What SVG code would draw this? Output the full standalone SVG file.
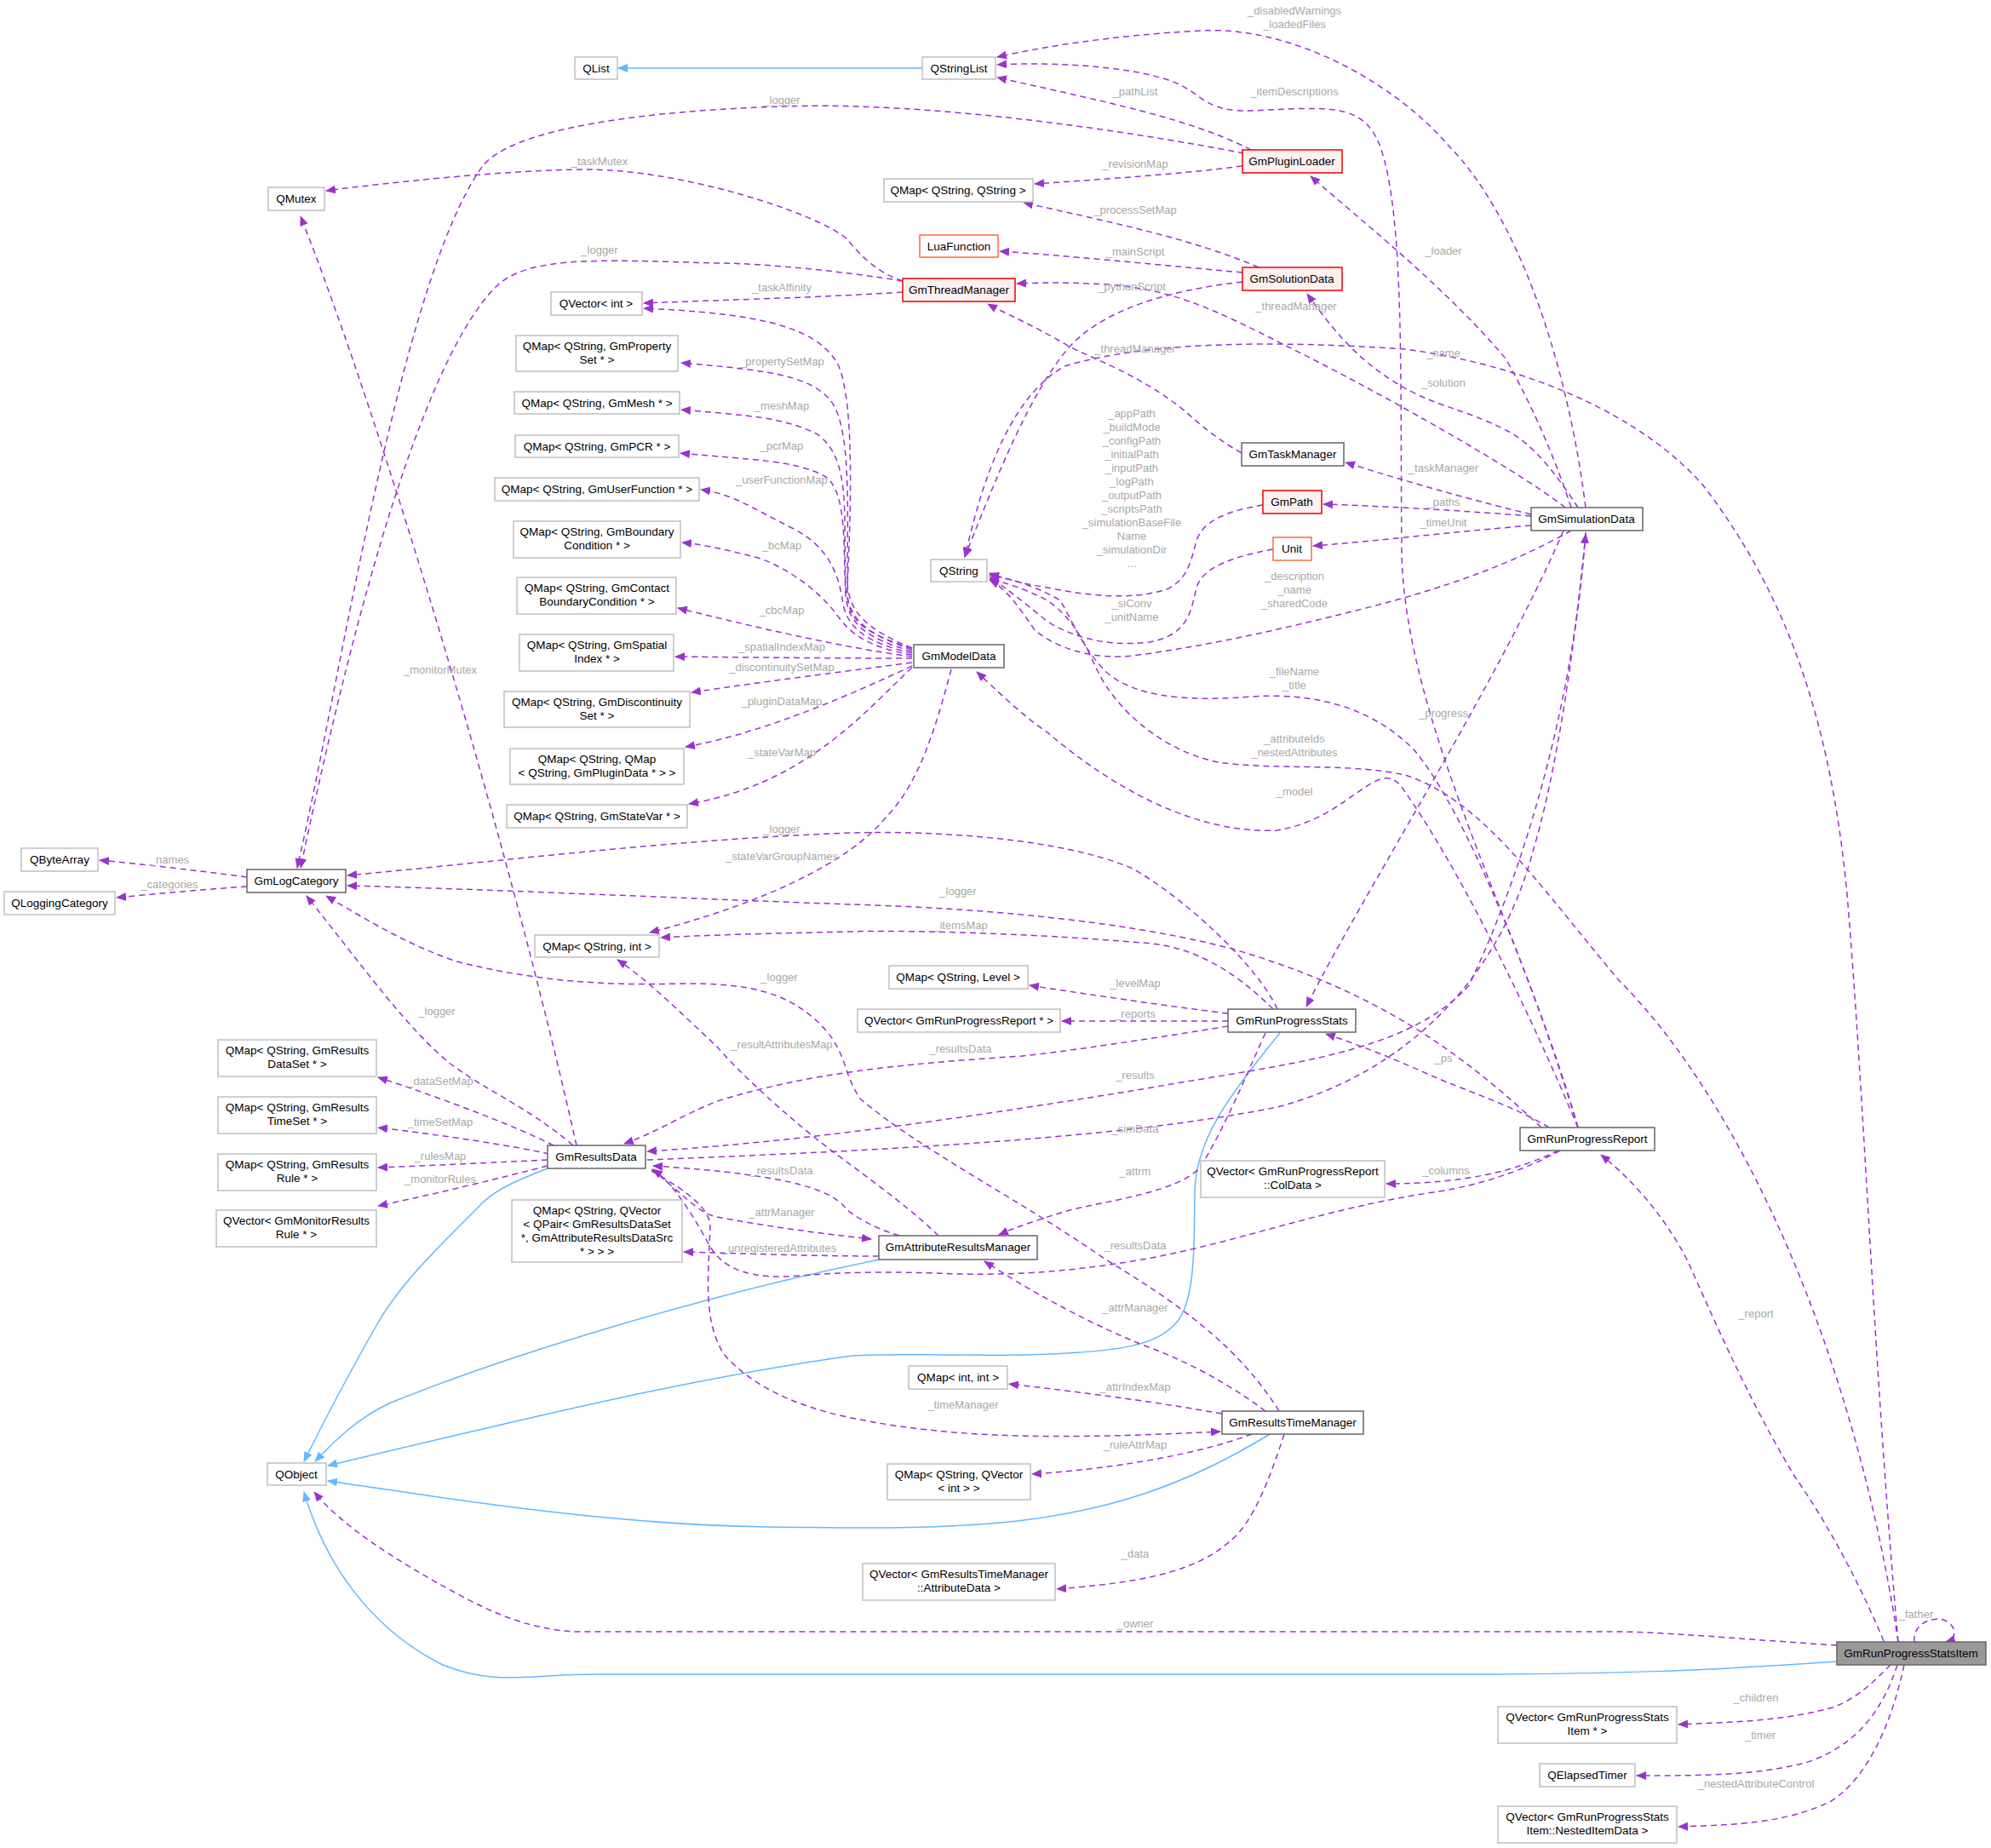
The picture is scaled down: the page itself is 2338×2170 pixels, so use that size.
<svg xmlns="http://www.w3.org/2000/svg" width="2338" height="2170" viewBox="0 0 2338 2170">
<style>
text{font-family:"Liberation Sans",Arial,sans-serif;}
.n rect{fill:#fff;stroke:#bfbfbf;stroke-width:1.5}
.d rect{fill:#fff;stroke:#666;stroke-width:1.5}
.r rect{fill:#fff0f0;stroke:#e00;stroke-width:1.5}
.o rect{fill:#fff;stroke:#ff6a3d;stroke-width:1.5}
.g rect{fill:#999;stroke:#666;stroke-width:1.5}
g text{font-size:13.5px;fill:#000;text-anchor:middle}
.e path{fill:none;stroke:#9a32cd;stroke-width:1.5;stroke-dasharray:7,5;marker-end:url(#ap)}
.i path{fill:none;stroke:#63b8ff;stroke-width:1.5;marker-end:url(#ab)}
.l text{font-size:13px;fill:#a8a8a8;text-anchor:middle}
</style>
<defs>
<marker id="ap" markerWidth="12" markerHeight="10" refX="11" refY="5" orient="auto" markerUnits="userSpaceOnUse"><path d="M0,0L12,5L0,10z" fill="#9a32cd"/></marker>
<marker id="ab" markerWidth="12" markerHeight="10" refX="11" refY="5" orient="auto" markerUnits="userSpaceOnUse"><path d="M0,0L12,5L0,10z" fill="#63b8ff"/></marker>
</defs>
<rect width="2338" height="2170" fill="#fff"/>
<g id="connectors">
<g class="i">
<path d="M1083,80L726,80"/>
<path d="M643,1372C610,1385 585,1395 567,1412C520,1460 470,1505 440,1560C400,1630 370,1690 357,1716"/>
<path d="M1033,1479C830,1520 600,1590 459,1647C420,1665 395,1690 370,1716"/>
<path d="M1503,1213C1440,1290 1404,1340 1403,1400C1402,1450 1405,1520 1384,1550C1360,1580 1320,1588 1200,1591C1100,1592 1040,1589 1000,1592C800,1620 600,1670 385,1721"/>
<path d="M1491,1684C1400,1740 1300,1780 1150,1790C1050,1797 964,1793 900,1793C700,1790 500,1755 385,1739"/>
<path d="M2157,1951C2000,1962 1896,1966 1700,1966C1300,1966 900,1966 700,1966C620,1966 582,1980 520,1955C430,1910 380,1830 357,1752"/>
</g>
<g class="e">
<path d="M1862,596C1840,420 1780,250 1700,170C1640,100 1520,30 1410,36C1300,42 1220,56 1171,67"/>
<path d="M1853,1324C1790,1100 1650,850 1646,650C1644,450 1650,250 1620,170C1600,120 1560,126 1469,130C1420,132 1410,112 1395,105C1360,80 1250,72 1171,76"/>
<path d="M1469,176C1400,140 1300,120 1171,91"/>
<path d="M1461,180C1250,140 1050,120 918,125C760,130 600,150 566,196C470,330 400,800 349,1019"/>
<path d="M1060,330C1030,320 1010,300 995,281C960,250 800,199 689,199C600,199 450,215 383,224"/>
<path d="M1060,330C1000,320 900,309 842,309C700,305 620,300 582,337C500,420 420,700 353,1019"/>
<path d="M1060,343C950,350 850,352 756,356"/>
<path d="M1459,195C1380,205 1300,210 1215,216"/>
<path d="M1478,314C1400,280 1300,260 1202,238"/>
<path d="M1459,320C1350,310 1250,300 1174,295"/>
<path d="M1459,331C1380,340 1300,360 1256,407C1210,460 1170,560 1133,654"/>
<path d="M1838,596C1780,550 1600,450 1512,407C1420,360 1376,340 1300,334C1250,331 1220,332 1194,333"/>
<path d="M1458,532C1420,510 1400,490 1393,484C1340,440 1280,420 1256,407C1210,380 1180,368 1160,357"/>
<path d="M1853,596C1830,560 1800,520 1768,505C1720,480 1683,477 1640,450C1590,420 1560,380 1535,345"/>
<path d="M1845,596C1820,520 1790,460 1768,421C1700,340 1600,260 1539,207"/>
<path d="M2229,1928C2200,1600 2190,1300 2169,1050C2150,850 2100,700 2000,570C1930,490 1800,430 1650,410C1500,400 1350,400 1250,430C1180,470 1150,580 1133,654"/>
<path d="M1798,604C1720,585 1650,565 1580,543"/>
<path d="M1798,606C1720,600 1640,595 1554,592"/>
<path d="M1798,617C1700,625 1620,635 1542,641"/>
<path d="M1483,593C1440,600 1412,612 1405,635C1398,660 1395,680 1370,692C1330,705 1280,700 1230,690C1200,685 1180,680 1162,673"/>
<path d="M1495,645C1440,655 1412,668 1405,690C1398,720 1395,745 1350,754C1300,760 1260,748 1230,730C1200,705 1180,690 1162,677"/>
<path d="M1845,623C1780,660 1700,690 1600,715C1500,740 1420,758 1330,770C1280,775 1240,760 1215,740C1195,710 1180,690 1162,681"/>
<path d="M1853,1324C1800,1150 1720,950 1660,880C1620,840 1560,812 1470,818C1380,825 1330,815 1300,790C1270,760 1260,730 1245,705C1220,690 1190,680 1162,675"/>
<path d="M2229,1928C2180,1600 2050,1300 1900,1150C1800,1030 1740,940 1650,910C1580,895 1500,905 1430,895C1360,880 1310,830 1290,790C1275,760 1265,730 1230,705C1200,690 1180,684 1162,680"/>
<path d="M1853,1324C1780,1150 1700,1000 1650,930C1620,880 1590,960 1500,975C1400,980 1300,920 1230,860C1200,840 1170,810 1147,789"/>
<path d="M1836,623C1760,800 1600,1050 1534,1182"/>
<path d="M1071,761C1020,740 995,720 995,680C995,600 1000,500 975,470C950,440 900,435 800,426"/>
<path d="M1071,763C1020,745 997,730 993,690C990,600 1000,540 960,510C920,490 880,488 800,481"/>
<path d="M1071,765C1020,750 997,735 993,700C990,640 995,580 970,560C935,540 880,540 799,532"/>
<path d="M1071,767C1020,755 997,740 990,710C985,670 970,640 930,620C880,595 860,580 823,575"/>
<path d="M1071,769C1020,760 1000,745 985,725C960,690 920,665 890,655C850,645 830,640 801,637"/>
<path d="M1071,771C1000,762 900,740 796,714"/>
<path d="M1071,773C980,773 890,772 793,771"/>
<path d="M1071,778C980,790 900,800 812,813"/>
<path d="M1071,782C1000,815 900,860 805,877"/>
<path d="M1071,784C1020,830 950,920 809,944"/>
<path d="M1117,786C1100,850 1080,920 1040,960C1000,1010 900,1060 763,1095"/>
<path d="M1071,761C1000,740 995,720 995,690C998,620 1005,480 985,430C960,380 880,368 756,362"/>
<path d="M290,1030C230,1022 170,1015 117,1010"/>
<path d="M290,1041C230,1045 180,1050 137,1054"/>
<path d="M1500,1185C1480,1140 1400,1060 1330,1020C1250,985 1100,975 1000,978C800,985 600,1010 408,1028"/>
<path d="M1810,1324C1700,1220 1600,1160 1450,1115C1300,1075 1100,1065 1000,1062C800,1055 600,1045 408,1040"/>
<path d="M673,1345C620,1300 570,1280 530,1250C480,1210 430,1140 360,1052"/>
<path d="M1502,1657C1460,1590 1400,1540 1300,1480C1200,1410 1080,1350 1010,1290C990,1260 995,1240 970,1210C930,1165 880,1154 800,1155C700,1158 620,1150 536,1129C480,1110 430,1080 383,1052"/>
<path d="M677,1345C600,1000 450,500 353,254"/>
<path d="M650,1345C600,1320 520,1290 444,1265"/>
<path d="M645,1355C600,1345 520,1333 444,1324"/>
<path d="M643,1362C580,1365 520,1368 444,1371"/>
<path d="M643,1369C580,1385 520,1400 444,1416"/>
<path d="M1442,1205C1350,1220 1250,1235 1200,1240C1050,1250 950,1260 842,1293C800,1310 770,1330 733,1343"/>
<path d="M1862,625C1850,800 1800,1000 1725,1157C1650,1240 1500,1250 1341,1279C1150,1310 950,1340 760,1352"/>
<path d="M760,1362C1000,1352 1300,1340 1500,1300C1650,1260 1760,1150 1800,1000C1830,900 1850,750 1862,627"/>
<path d="M1486,1213C1460,1270 1440,1320 1410,1370C1384,1400 1300,1410 1256,1421C1220,1432 1195,1440 1173,1450"/>
<path d="M1832,1351C1780,1380 1720,1395 1683,1400C1550,1420 1450,1460 1341,1479C1250,1495 1180,1497 1128,1496C1050,1493 1000,1493 940,1498C880,1503 850,1490 834,1464C810,1420 790,1390 767,1373"/>
<path d="M1056,1451C1020,1440 1000,1425 995,1421C980,1400 940,1380 767,1369"/>
<path d="M765,1373C800,1400 820,1425 842,1429C900,1440 960,1448 1023,1455"/>
<path d="M1032,1475C950,1475 880,1472 803,1470"/>
<path d="M1102,1451C1060,1410 1000,1370 957,1336C900,1290 860,1250 842,1229C800,1190 760,1150 725,1127"/>
<path d="M1495,1185C1450,1140 1400,1110 1341,1107C1200,1095 1050,1092 1000,1094C900,1096 830,1098 776,1101"/>
<path d="M1442,1190C1360,1180 1280,1168 1209,1157"/>
<path d="M1442,1199C1380,1199 1320,1199 1247,1199"/>
<path d="M1819,1324C1780,1300 1720,1280 1683,1264C1630,1240 1590,1225 1557,1214"/>
<path d="M1830,1351C1780,1375 1720,1390 1628,1390"/>
<path d="M1486,1657C1450,1630 1400,1600 1341,1579C1270,1550 1200,1510 1156,1481"/>
<path d="M1435,1660C1350,1645 1270,1635 1185,1625"/>
<path d="M765,1375C810,1400 834,1421 834,1440C832,1500 825,1550 850,1590C880,1625 930,1650 995,1664C1100,1686 1200,1688 1300,1686C1350,1685 1390,1683 1433,1681"/>
<path d="M1470,1684C1400,1710 1300,1725 1212,1731"/>
<path d="M1508,1684C1490,1740 1470,1790 1444,1810C1410,1840 1360,1857 1241,1866"/>
<path d="M2212,1927C2180,1850 2140,1780 2109,1736C2050,1640 2000,1520 1981,1479C1950,1420 1910,1380 1880,1356"/>
<path d="M2157,1932C2050,1925 1950,1916 1896,1916C1700,1916 1300,1916 1000,1916C850,1916 720,1916 673,1916C620,1912 580,1895 536,1871C460,1830 400,1790 369,1752"/>
<path d="M2248,1928C2245,1905 2275,1895 2288,1905C2300,1915 2295,1925 2285,1928"/>
<path d="M2220,1955C2200,1975 2180,1995 2152,2005C2090,2022 2030,2022 1971,2025"/>
<path d="M2228,1955C2210,2010 2180,2050 2120,2070C2060,2085 2000,2085 1922,2085"/>
<path d="M2236,1955C2220,2030 2190,2090 2150,2115C2100,2140 2040,2143 1971,2145"/>
</g>
<g class="l">
<text x="1520" y="17">_disabledWarnings</text><text x="1520" y="33">_loadedFiles</text>
<text x="1520" y="112">_itemDescriptions</text>
<text x="1333" y="112">_pathList</text>
<text x="918" y="122">_logger</text>
<text x="1333" y="197">_revisionMap</text>
<text x="704" y="194">_taskMutex</text>
<text x="1333" y="251">_processSetMap</text>
<text x="704" y="298">_logger</text>
<text x="1333" y="300">_mainScript</text>
<text x="1695" y="299">_loader</text>
<text x="918" y="342">_taskAffinity</text>
<text x="1329" y="341">_pythonScript</text>
<text x="1522" y="364">_threadManager</text>
<text x="1333" y="414">_threadManager</text>
<text x="1695" y="419">_name</text>
<text x="918" y="429">_propertySetMap</text>
<text x="1695" y="454">_solution</text>
<text x="918" y="481">_meshMap</text>
<text x="1329" y="490">_appPath</text><text x="1329" y="506">_buildMode</text><text x="1329" y="522">_configPath</text><text x="1329" y="538">_initialPath</text><text x="1329" y="554">_inputPath</text><text x="1329" y="570">_logPath</text><text x="1329" y="586">_outputPath</text><text x="1329" y="602">_scriptsPath</text><text x="1329" y="618">_simulationBaseFile</text><text x="1329" y="634">Name</text><text x="1329" y="650">_simulationDir</text><text x="1329" y="666">...</text>
<text x="918" y="528">_pcrMap</text>
<text x="1695" y="554">_taskManager</text>
<text x="918" y="568">_userFunctionMap</text>
<text x="1695" y="594">_paths</text>
<text x="1695" y="618">_timeUnit</text>
<text x="918" y="645">_bcMap</text>
<text x="1520" y="681">_description</text><text x="1520" y="697">_name</text><text x="1520" y="713">_sharedCode</text>
<text x="1329" y="713">_siConv</text><text x="1329" y="729">_unitName</text>
<text x="918" y="721">_cbcMap</text>
<text x="918" y="764">_spatialIndexMap</text>
<text x="918" y="788">_discontinuitySetMap</text>
<text x="517" y="791">_monitorMutex</text>
<text x="1520" y="793">_fileName</text><text x="1520" y="809">_title</text>
<text x="1695" y="842">_progress</text>
<text x="918" y="828">_pluginDataMap</text>
<text x="1520" y="872">_attributeIds</text><text x="1520" y="888">_nestedAttributes</text>
<text x="918" y="888">_stateVarMap</text>
<text x="1520" y="934">_model</text>
<text x="918" y="978">_logger</text>
<text x="918" y="1010">_stateVarGroupNames</text>
<text x="199" y="1014">_names</text>
<text x="199" y="1043">_categories</text>
<text x="1125" y="1051">_logger</text>
<text x="1128" y="1091">_itemsMap</text>
<text x="915" y="1152">_logger</text>
<text x="1333" y="1159">_levelMap</text>
<text x="513" y="1192">_logger</text>
<text x="1333" y="1195">_reports</text>
<text x="918" y="1231">_resultAttributesMap</text>
<text x="1128" y="1236">_resultsData</text>
<text x="1695" y="1247">_ps</text>
<text x="1333" y="1267">_results</text>
<text x="517" y="1274">_dataSetMap</text>
<text x="517" y="1322">_timeSetMap</text>
<text x="1333" y="1330">_simData</text>
<text x="517" y="1362">_rulesMap</text>
<text x="918" y="1379">_resultsData</text>
<text x="1333" y="1380">_attrm</text>
<text x="1698" y="1379">_columns</text>
<text x="517" y="1389">_monitorRules</text>
<text x="918" y="1428">_attrManager</text>
<text x="1333" y="1467">_resultsData</text>
<text x="915" y="1470">_unregisteredAttributes</text>
<text x="1333" y="1540">_attrManager</text>
<text x="2062" y="1547">_report</text>
<text x="1333" y="1633">_attrIndexMap</text>
<text x="1131" y="1654">_timeManager</text>
<text x="1333" y="1701">_ruleAttrMap</text>
<text x="1333" y="1829">_data</text>
<text x="2250" y="1900">_father</text>
<text x="1333" y="1911">_owner</text>
<text x="2062" y="1998">_children</text>
<text x="2067" y="2042">_timer</text>
<text x="2062" y="2099">_nestedAttributeControl</text>
</g>
</g>
<g id="QList" class="n"><rect x="675" y="67" width="50" height="26"/><text x="700" y="85">QList</text></g>
<g id="QStringList" class="n"><rect x="1083" y="67" width="86" height="26"/><text x="1126" y="85">QStringList</text></g>
<g id="QMutex" class="n"><rect x="315" y="220" width="66" height="27"/><text x="348" y="238">QMutex</text></g>
<g id="QMapQStringQString" class="n"><rect x="1038" y="210" width="175" height="27"/><text x="1125" y="228">QMap&lt; QString, QString &gt;</text></g>
<g id="LuaFunction" class="o"><rect x="1080" y="276" width="92" height="26"/><text x="1126" y="294">LuaFunction</text></g>
<g id="GmPluginLoader" class="r"><rect x="1459" y="176" width="117" height="27"/><text x="1517" y="194">GmPluginLoader</text></g>
<g id="GmSolutionData" class="r"><rect x="1459" y="314" width="117" height="27"/><text x="1517" y="332">GmSolutionData</text></g>
<g id="GmThreadManager" class="r"><rect x="1060" y="327" width="132" height="27"/><text x="1126" y="345">GmThreadManager</text></g>
<g id="QVectorInt" class="n"><rect x="647" y="343" width="107" height="27"/><text x="700" y="361">QVector&lt; int &gt;</text></g>
<g id="QMapPropertySet" class="n"><rect x="606" y="394" width="190" height="42"/><text x="701" y="411">QMap&lt; QString, GmProperty</text><text x="701" y="427">Set * &gt;</text></g>
<g id="QMapMesh" class="n"><rect x="604" y="460" width="194" height="26"/><text x="701" y="478">QMap&lt; QString, GmMesh * &gt;</text></g>
<g id="QMapPCR" class="n"><rect x="605" y="511" width="192" height="26"/><text x="701" y="529">QMap&lt; QString, GmPCR * &gt;</text></g>
<g id="QMapUserFunction" class="n"><rect x="581" y="561" width="240" height="27"/><text x="701" y="579">QMap&lt; QString, GmUserFunction * &gt;</text></g>
<g id="QMapBoundary" class="n"><rect x="603" y="612" width="196" height="43"/><text x="701" y="629">QMap&lt; QString, GmBoundary</text><text x="701" y="645">Condition * &gt;</text></g>
<g id="QMapContact" class="n"><rect x="607" y="678" width="187" height="43"/><text x="701" y="695">QMap&lt; QString, GmContact</text><text x="701" y="711">BoundaryCondition * &gt;</text></g>
<g id="QMapSpatial" class="n"><rect x="610" y="745" width="181" height="43"/><text x="701" y="762">QMap&lt; QString, GmSpatial</text><text x="701" y="778">Index * &gt;</text></g>
<g id="QMapDiscontinuity" class="n"><rect x="592" y="812" width="218" height="42"/><text x="701" y="829">QMap&lt; QString, GmDiscontinuity</text><text x="701" y="845">Set * &gt;</text></g>
<g id="QMapPluginData" class="n"><rect x="599" y="879" width="204" height="42"/><text x="701" y="896">QMap&lt; QString, QMap</text><text x="701" y="912">&lt; QString, GmPluginData * &gt; &gt;</text></g>
<g id="QMapStateVar" class="n"><rect x="595" y="945" width="212" height="27"/><text x="701" y="963">QMap&lt; QString, GmStateVar * &gt;</text></g>
<g id="QString" class="n"><rect x="1093" y="657" width="66" height="26"/><text x="1126" y="675">QString</text></g>
<g id="GmModelData" class="d"><rect x="1073" y="757" width="106" height="27"/><text x="1126" y="775">GmModelData</text></g>
<g id="GmTaskManager" class="d"><rect x="1458" y="520" width="120" height="27"/><text x="1518" y="538">GmTaskManager</text></g>
<g id="GmPath" class="r"><rect x="1483" y="576" width="69" height="27"/><text x="1517" y="594">GmPath</text></g>
<g id="Unit" class="o"><rect x="1495" y="631" width="45" height="27"/><text x="1517" y="649">Unit</text></g>
<g id="GmSimulationData" class="d"><rect x="1798" y="596" width="131" height="27"/><text x="1863" y="614">GmSimulationData</text></g>
<g id="QByteArray" class="n"><rect x="25" y="996" width="90" height="27"/><text x="70" y="1014">QByteArray</text></g>
<g id="GmLogCategory" class="d"><rect x="290" y="1021" width="116" height="27"/><text x="348" y="1039">GmLogCategory</text></g>
<g id="QLoggingCategory" class="n"><rect x="5" y="1047" width="130" height="27"/><text x="70" y="1065">QLoggingCategory</text></g>
<g id="QMapQStringInt" class="n"><rect x="628" y="1098" width="146" height="26"/><text x="701" y="1116">QMap&lt; QString, int &gt;</text></g>
<g id="QMapLevel" class="n"><rect x="1044" y="1134" width="163" height="27"/><text x="1125" y="1152">QMap&lt; QString, Level &gt;</text></g>
<g id="QVectorReport" class="n"><rect x="1007" y="1185" width="238" height="27"/><text x="1126" y="1203">QVector&lt; GmRunProgressReport * &gt;</text></g>
<g id="GmRunProgressStats" class="d"><rect x="1442" y="1185" width="150" height="27"/><text x="1517" y="1203">GmRunProgressStats</text></g>
<g id="QMapResultsDataSet" class="n"><rect x="256" y="1221" width="186" height="43"/><text x="349" y="1238">QMap&lt; QString, GmResults</text><text x="349" y="1254">DataSet * &gt;</text></g>
<g id="QMapResultsTimeSet" class="n"><rect x="256" y="1288" width="186" height="43"/><text x="349" y="1305">QMap&lt; QString, GmResults</text><text x="349" y="1321">TimeSet * &gt;</text></g>
<g id="QMapResultsRule" class="n"><rect x="256" y="1355" width="186" height="43"/><text x="349" y="1372">QMap&lt; QString, GmResults</text><text x="349" y="1388">Rule * &gt;</text></g>
<g id="QVectorMonitorRule" class="n"><rect x="254" y="1421" width="188" height="43"/><text x="348" y="1438">QVector&lt; GmMonitorResults</text><text x="348" y="1454">Rule * &gt;</text></g>
<g id="GmResultsData" class="d"><rect x="643" y="1345" width="115" height="27"/><text x="700" y="1363">GmResultsData</text></g>
<g id="GmRunProgressReport" class="d"><rect x="1785" y="1324" width="158" height="27"/><text x="1864" y="1342">GmRunProgressReport</text></g>
<g id="QVectorColData" class="n"><rect x="1410" y="1363" width="216" height="43"/><text x="1518" y="1380">QVector&lt; GmRunProgressReport</text><text x="1518" y="1396">::ColData &gt;</text></g>
<g id="QMapQVectorQPair" class="n"><rect x="601" y="1409" width="200" height="73"/><text x="701" y="1426">QMap&lt; QString, QVector</text><text x="701" y="1442">&lt; QPair&lt; GmResultsDataSet</text><text x="701" y="1458">*, GmAttributeResultsDataSrc</text><text x="701" y="1474">* &gt; &gt; &gt;</text></g>
<g id="GmAttributeResultsManager" class="d"><rect x="1032" y="1451" width="186" height="28"/><text x="1125" y="1469">GmAttributeResultsManager</text></g>
<g id="QMapIntInt" class="n"><rect x="1067" y="1604" width="116" height="27"/><text x="1125" y="1622">QMap&lt; int, int &gt;</text></g>
<g id="GmResultsTimeManager" class="d"><rect x="1435" y="1657" width="166" height="27"/><text x="1518" y="1675">GmResultsTimeManager</text></g>
<g id="QObject" class="n"><rect x="314" y="1718" width="69" height="26"/><text x="348" y="1736">QObject</text></g>
<g id="QMapQStringQVectorInt" class="n"><rect x="1042" y="1719" width="168" height="42"/><text x="1126" y="1736">QMap&lt; QString, QVector</text><text x="1126" y="1752">&lt; int &gt; &gt;</text></g>
<g id="QVectorAttributeData" class="n"><rect x="1013" y="1836" width="226" height="43"/><text x="1126" y="1853">QVector&lt; GmResultsTimeManager</text><text x="1126" y="1869">::AttributeData &gt;</text></g>
<g id="GmRunProgressStatsItem" class="g"><rect x="2157" y="1928" width="175" height="27"/><text x="2244" y="1946">GmRunProgressStatsItem</text></g>
<g id="QVectorStatsItem" class="n"><rect x="1759" y="2004" width="210" height="43"/><text x="1864" y="2021">QVector&lt; GmRunProgressStats</text><text x="1864" y="2037">Item * &gt;</text></g>
<g id="QElapsedTimer" class="n"><rect x="1808" y="2071" width="112" height="27"/><text x="1864" y="2089">QElapsedTimer</text></g>
<g id="QVectorNestedItemData" class="n"><rect x="1759" y="2121" width="210" height="43"/><text x="1864" y="2138">QVector&lt; GmRunProgressStats</text><text x="1864" y="2154">Item::NestedItemData &gt;</text></g>
</svg>
